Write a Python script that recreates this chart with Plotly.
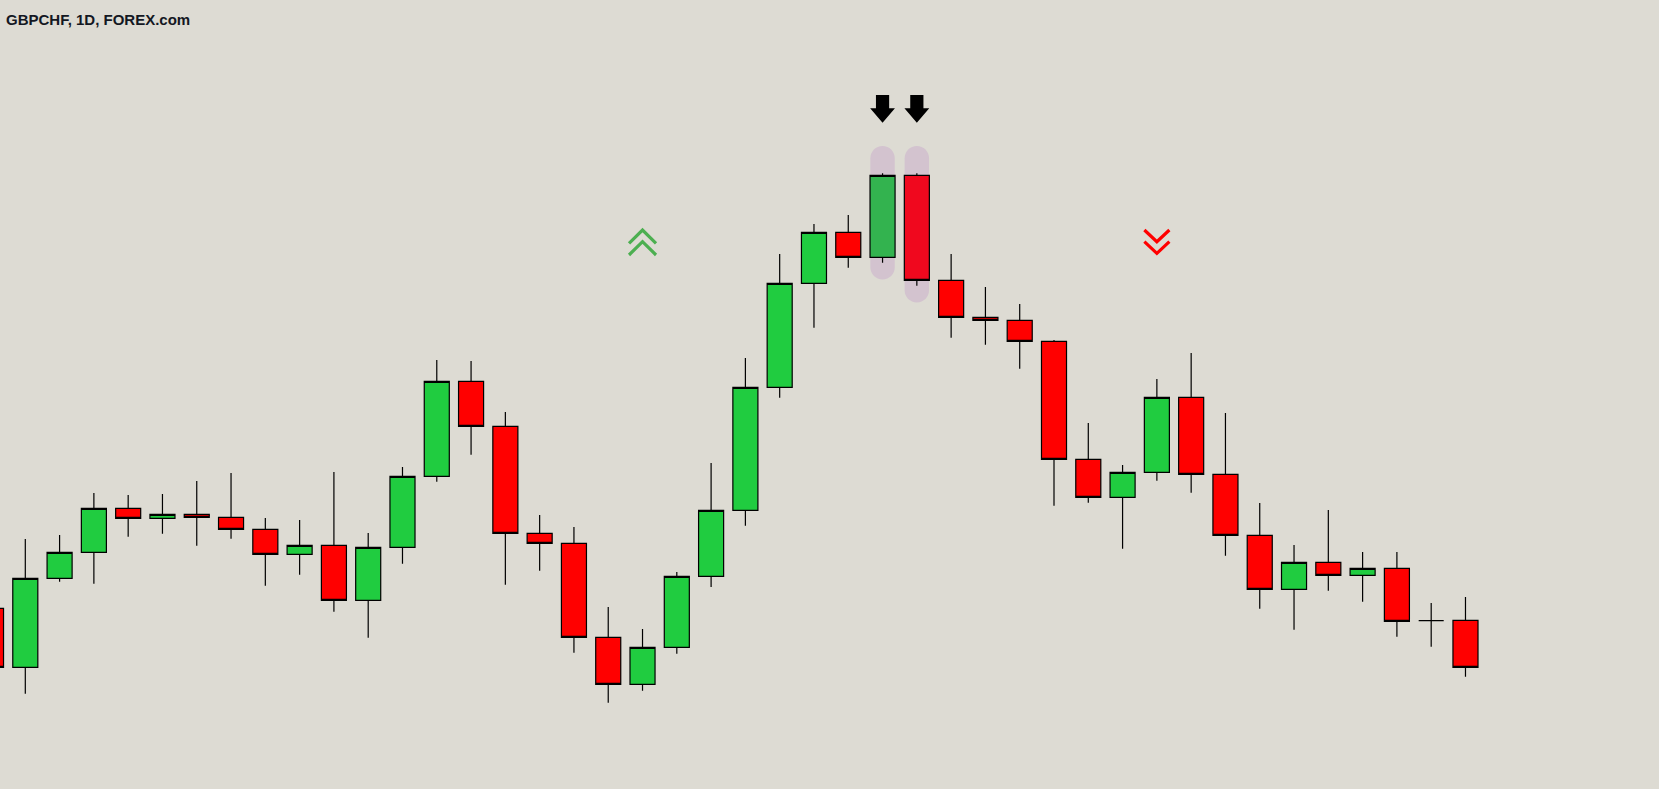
import plotly.graph_objects as go

# ---- data (arbitrary price units) ----
idx = list(range(-1, 43))
opens = [180.7, 121.7, 210.7, 236.7, 280.7, 270.7, 274.7, 271.7, 259.7, 234.7,
         243.7, 188.7, 241.7, 312.7, 407.7, 362.7, 255.7, 245.7, 151.7, 104.7,
         141.7, 212.7, 278.7, 401.7, 505.7, 556.7, 531.7, 613.7, 508.7, 471.7,
         468.7, 447.7, 329.7, 291.7, 316.7, 391.7, 314.7, 253.7, 199.7, 226.7,
         213.7, 220.7, 168.3, 168.7]
highs = [191.0, 250.0, 254.0, 296.0, 294.0, 295.0, 308.0, 316.0, 271.0, 269.0,
         317.0, 256.0, 322.0, 429.0, 428.0, 377.0, 274.0, 262.0, 182.0, 160.0,
         217.0, 326.0, 431.0, 535.0, 565.0, 574.0, 615.7, 615.7, 535.0, 502.0,
         485.0, 449.0, 366.0, 324.0, 410.0, 436.0, 376.0, 286.0, 244.0, 279.0,
         237.0, 237.0, 186.0, 192.0]
lows = [109.0, 95.3, 207.3, 205.3, 252.3, 255.3, 243.3, 250.3, 203.3, 214.3,
        177.3, 151.3, 225.3, 307.3, 334.3, 204.3, 218.3, 136.3, 86.3, 98.3,
        135.3, 202.0, 263.3, 391.3, 461.3, 521.3, 526.3, 503.3, 451.3, 444.3,
        420.3, 283.3, 286.3, 240.3, 308.3, 296.3, 233.3, 180.3, 159.3, 198.3,
        187.3, 152.3, 142.3, 112.3]
closes = [121.7, 210.7, 236.7, 280.7, 270.7, 274.7, 271.7, 259.7, 234.7, 243.7,
          188.7, 241.7, 312.7, 407.7, 362.7, 255.7, 245.7, 151.7, 104.7, 141.7,
          212.7, 278.7, 401.7, 505.7, 556.7, 531.7, 613.7, 508.7, 471.7, 468.7,
          447.7, 329.7, 291.7, 316.7, 391.7, 314.7, 253.7, 199.7, 226.7, 213.7,
          220.7, 167.7, 168.3, 121.7]

highlight = [25, 26]          # pattern candles (arrows + pills)
bull_signal = 18              # green double chevron
bear_signal = 33              # red double chevron
title_text = "GBPCHF, 1D, FOREX.com"

BG = "#dddbd3"
GREEN = "#20cc40"
RED = "#ff0000"
LW = 1.2

main = [k for k, i in enumerate(idx) if i not in highlight]
hl = [k for k, i in enumerate(idx) if i in highlight]

def sub(arr, ks):
    return [arr[k] for k in ks]

fig = go.Figure()

fig.add_trace(go.Candlestick(
    x=sub(idx, main), open=sub(opens, main), high=sub(highs, main),
    low=sub(lows, main), close=sub(closes, main),
    increasing=dict(fillcolor=GREEN, line=dict(color="black", width=LW)),
    decreasing=dict(fillcolor=RED, line=dict(color="black", width=LW)),
    whiskerwidth=0, showlegend=False, hoverinfo="skip"))

fig.add_trace(go.Candlestick(
    x=sub(idx, hl), open=sub(opens, hl), high=sub(highs, hl),
    low=sub(lows, hl), close=sub(closes, hl),
    increasing=dict(fillcolor="#33b34f", line=dict(color="black", width=LW)),
    decreasing=dict(fillcolor="#f0081e", line=dict(color="black", width=LW)),
    whiskerwidth=0, showlegend=False, hoverinfo="skip"))

shapes = []
PX = 34.29  # pixels per candle slot
# pills behind highlighted candles
for i in highlight:
    k = idx.index(i)
    hw = 12.2 / PX
    r_y = 12.2
    r_x = hw
    yt = highs[k] + 27.3
    yb = lows[k] - 16.8
    x0, x1, xc = i - hw, i + hw, i
    c = 0.5523
    p = (f"M {x0},{yb + r_y} L {x0},{yt - r_y} "
         f"C {x0},{yt - r_y + c * r_y} {xc - c * r_x},{yt} {xc},{yt} "
         f"C {xc + c * r_x},{yt} {x1},{yt - r_y + c * r_y} {x1},{yt - r_y} "
         f"L {x1},{yb + r_y} "
         f"C {x1},{yb + r_y - c * r_y} {xc + c * r_x},{yb} {xc},{yb} "
         f"C {xc - c * r_x},{yb} {x0},{yb + r_y - c * r_y} {x0},{yb + r_y} Z")
    shapes.append(dict(type="path", path=p, xref="x", yref="y",
                       fillcolor="#d3c3cf", line=dict(width=0), layer="below"))
    # black down arrow above
    tip = highs[k] + 50.6
    base = tip + 14.4
    top = tip + 27.7
    sw = 6.6 / PX
    hwid = 12.4 / PX
    ap = (f"M {i - sw},{top} L {i + sw},{top} L {i + sw},{base} "
          f"L {i + hwid},{base} L {i},{tip} L {i - hwid},{base} "
          f"L {i - sw},{base} Z")
    shapes.append(dict(type="path", path=ap, xref="x", yref="y",
                       fillcolor="black", line=dict(width=0)))

# chevrons
aw = 13.5 / PX
for apex in (559.0, 547.3):
    p = f"M {bull_signal - aw},{apex - 13.3} L {bull_signal},{apex} L {bull_signal + aw},{apex - 13.3}"
    shapes.append(dict(type="path", path=p, xref="x", yref="y",
                       line=dict(color="#4caf50", width=3.2)))
aw2 = 12.5 / PX
for apex in (547.3, 535.7):
    p = f"M {bear_signal - aw2},{apex + 11.7} L {bear_signal},{apex} L {bear_signal + aw2},{apex + 11.7}"
    shapes.append(dict(type="path", path=p, xref="x", yref="y",
                       line=dict(color="#ff0000", width=3.2)))

x_min = -25.3 / PX
fig.update_layout(
    width=1659, height=789,
    margin=dict(l=0, r=0, t=0, b=0),
    paper_bgcolor=BG, plot_bgcolor=BG,
    shapes=shapes,
    showlegend=False,
    boxmode="overlay", boxgap=0.27, boxgroupgap=0,
    xaxis=dict(range=[x_min, x_min + 1659 / PX], visible=False,
               rangeslider=dict(visible=False), fixedrange=True),
    yaxis=dict(range=[0, 789], visible=False, fixedrange=True),
    annotations=[dict(text="<b>" + title_text + "</b>", xref="paper", yref="paper",
                      x=4 / 1659, y=1 - 19.5 / 789, xanchor="left", yanchor="middle",
                      showarrow=False,
                      font=dict(family="Liberation Sans, Arial, sans-serif",
                                size=15, color="#131722"))],
)

fig.write_html("out.html", config={"displayModeBar": False},
               post_script="document.body.style.margin='0px';document.body.style.overflow='hidden';")
